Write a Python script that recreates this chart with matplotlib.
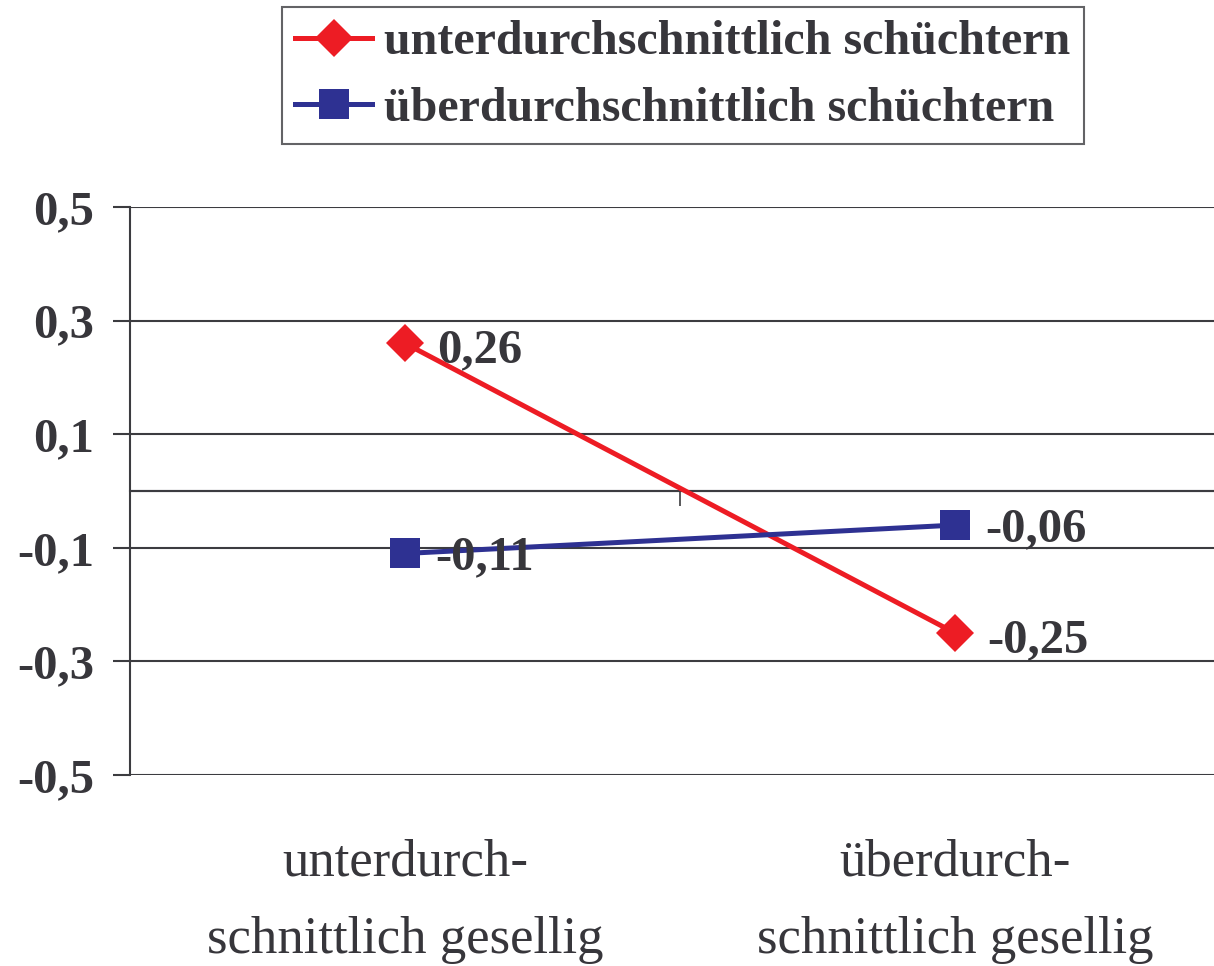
import matplotlib
matplotlib.use("Agg")
import matplotlib.pyplot as plt

categories = ["unterdurch-\nschnittlich gesellig", "überdurch-\nschnittlich gesellig"]
series_names = ["unterdurchschnittlich schüchtern", "überdurchschnittlich schüchtern"]
values_unter = [0.26, -0.25]
values_ueber = [-0.11, -0.06]
value_labels_unter = ["0,26", "-0,25"]
value_labels_ueber = ["-0,11", "-0,06"]
yticks = [0.5, 0.3, 0.1, -0.1, -0.3, -0.5]
ytick_labels = ["0,5", "0,3", "0,1", "-0,1", "-0,3", "-0,5"]

plt.rcParams['font.family'] = ['Liberation Serif', 'DejaVu Serif']
txt = "#37363b"
grid = "#3c3c40"

fig = plt.figure(figsize=(12.14, 9.66), dpi=100)
ax = fig.add_axes([130/1214, (966-775)/966, 1 - 130/1214, (775-207)/966])

xpos = [0.5, 1.5]
ax.set_xlim(0, 1084/550)
ax.set_ylim(-0.5, 0.5)

for y in yticks:
    ax.axhline(y, color=grid, lw=1.5, zorder=1)
ax.axhline(0, color=grid, lw=1.5, zorder=1)

l1, = ax.plot(xpos, values_unter, color="#ED1C24", lw=3.6, marker="D",
              markersize=19, markeredgewidth=0, zorder=3, label=series_names[0])
l2, = ax.plot(xpos, values_ueber, color="#2E3192", lw=3.6, marker="s",
              markersize=22, markeredgewidth=0, zorder=3, label=series_names[1])

for x, v, s in zip(xpos, values_unter, value_labels_unter):
    ax.annotate(s, (x, v), xytext=(23, -5), textcoords="offset points",
                ha="left", va="center", fontsize=35, fontweight="bold", color=txt, zorder=4)
for x, v, s in zip(xpos, values_ueber, value_labels_ueber):
    ax.annotate(s, (x, v), xytext=(22, -3), textcoords="offset points",
                ha="left", va="center", fontsize=35, fontweight="bold", color=txt, zorder=4)

for sp in ["top", "right"]:
    ax.spines[sp].set_visible(False)
ax.spines["left"].set_color(grid)
ax.spines["left"].set_linewidth(1.5)

ax.set_yticks(yticks)
ax.set_yticklabels(ytick_labels, fontsize=35, fontweight="bold", color=txt)
ax.tick_params(axis="y", length=12, width=1.5, color=grid, pad=14, direction="out")

# category axis crossing at zero, with tick at the category boundary
ax.set_xticks([1.0])
ax.set_xticklabels([""])
ax.tick_params(axis="x", length=11, width=1.2, color=grid)
ax.spines["bottom"].set_position(("data", 0))
ax.spines["bottom"].set_color(grid)
ax.spines["bottom"].set_linewidth(1.5)

for x, c in zip(xpos, categories):
    ax.text(x, -0.611, c, transform=ax.transData, ha="center", va="top",
            fontsize=38, color=txt, linespacing=1.8)

leg = fig.legend(handles=[l1, l2], loc="upper left",
                 bbox_to_anchor=(282/1214, 1 - 7/966),
                 prop={"weight": "bold", "size": 34.6}, frameon=True, fancybox=False,
                 edgecolor=grid, handlelength=1.6, handletextpad=0.25,
                 borderpad=0.28, labelspacing=0.47, borderaxespad=0)
leg.get_frame().set_linewidth(1.5)
for t in leg.get_texts():
    t.set_color(txt)

fig.savefig("out.png", dpi=100)
